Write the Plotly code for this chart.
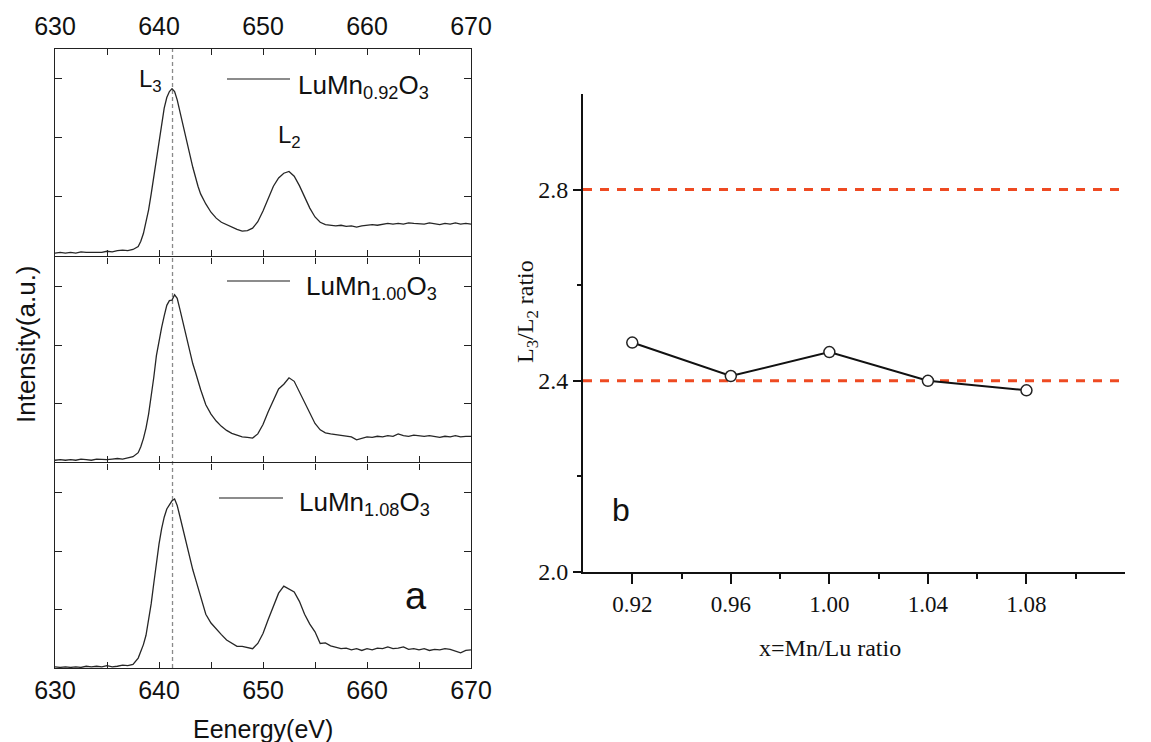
import plotly.graph_objects as go

# the page body keeps its default 8px margin, so the figure is drawn 8px in from the top-left corner
OFF = 8
W, H = 1151 - OFF, 742 - OFF

# ---------------- data ----------------
energy = [630.0, 630.5, 631.0, 631.5, 632.0, 632.5, 633.0, 633.5, 634.0, 634.5, 635.0, 635.5, 636.0, 636.5, 637.0, 637.5,
          638.0, 638.25, 638.5, 638.75, 639.0, 639.25, 639.5, 639.75, 640.0, 640.25, 640.5, 640.75, 641.0, 641.25,
          641.5, 641.75, 642.0, 642.25, 642.5, 642.75, 643.0, 643.25, 643.5, 643.75, 644.0,
          644.5, 645.0, 645.5, 646.0, 646.5, 647.0, 647.5, 648.0, 648.5, 649.0, 649.5, 650.0, 650.5, 651.0, 651.5,
          652.0, 652.5, 653.0, 653.5, 654.0, 654.5, 655.0, 655.5, 656.0, 656.5, 657.0, 657.5, 658.0, 658.5, 659.0,
          659.5, 660.0, 660.5, 661.0, 661.5, 662.0, 662.5, 663.0, 663.5, 664.0, 664.5, 665.0, 665.5, 666.0, 666.5,
          667.0, 667.5, 668.0, 668.5, 669.0, 669.5, 670.0]

int_092 = [0.05, 0.06, 0.05, 0.06, 0.05, 0.07, 0.06, 0.06, 0.07, 0.06, 0.08, 0.07, 0.09, 0.10, 0.09, 0.11,
           0.16, 0.25, 0.38, 0.56, 0.78, 1.05, 1.34, 1.66, 1.98, 2.26, 2.50, 2.68, 2.78, 2.83,
           2.78, 2.64, 2.46, 2.27, 2.08, 1.88, 1.69, 1.50, 1.33, 1.18, 1.05,
           0.88, 0.74, 0.64, 0.57, 0.53, 0.48, 0.45, 0.42, 0.43, 0.47, 0.58, 0.76, 0.98, 1.18, 1.32,
           1.40, 1.43, 1.35, 1.19, 1.00, 0.81, 0.66, 0.57, 0.53, 0.52, 0.51, 0.52, 0.50, 0.51, 0.49,
           0.51, 0.52, 0.53, 0.52, 0.54, 0.55, 0.54, 0.55, 0.54, 0.56, 0.55, 0.55, 0.54, 0.56, 0.54,
           0.53, 0.55, 0.54, 0.56, 0.54, 0.55, 0.54]

int_100 = [0.03, 0.04, 0.03, 0.04, 0.03, 0.05, 0.04, 0.03, 0.05, 0.04, 0.04, 0.05, 0.06, 0.05, 0.07, 0.09,
           0.16, 0.26, 0.40, 0.58, 0.82, 1.10, 1.45, 1.82, 2.10, 2.30, 2.50, 2.68, 2.76, 2.77,
           2.86, 2.80, 2.62, 2.43, 2.24, 2.03, 1.84, 1.68, 1.54, 1.38, 1.24,
           0.98, 0.82, 0.70, 0.61, 0.54, 0.49, 0.46, 0.43, 0.42, 0.41, 0.48, 0.64, 0.86, 1.06, 1.25,
           1.33, 1.44, 1.38, 1.20, 1.02, 0.83, 0.66, 0.55, 0.50, 0.48, 0.47, 0.45, 0.44, 0.43, 0.38,
           0.41, 0.43, 0.42, 0.44, 0.43, 0.45, 0.44, 0.48, 0.45, 0.44, 0.46, 0.45, 0.44, 0.45, 0.43,
           0.42, 0.44, 0.43, 0.45, 0.43, 0.44, 0.44]

int_108 = [0.02, 0.01, 0.02, 0.01, 0.02, 0.01, 0.03, 0.02, 0.03, 0.02, 0.04, 0.02, 0.03, 0.05, 0.04, 0.06,
           0.17, 0.27, 0.40, 0.56, 0.80, 1.10, 1.45, 1.82, 2.12, 2.38, 2.58, 2.72, 2.80, 2.86,
           2.89, 2.78, 2.60, 2.42, 2.22, 2.02, 1.83, 1.68, 1.53, 1.38, 1.22,
           0.92, 0.77, 0.66, 0.57, 0.48, 0.42, 0.37, 0.37, 0.35, 0.33, 0.42, 0.59, 0.83, 1.07, 1.28,
           1.40, 1.35, 1.30, 1.14, 0.92, 0.75, 0.62, 0.42, 0.43, 0.38, 0.35, 0.33, 0.34, 0.31, 0.33,
           0.30, 0.33, 0.31, 0.34, 0.33, 0.36, 0.33, 0.34, 0.36, 0.32, 0.33, 0.31, 0.33, 0.30, 0.32,
           0.31, 0.33, 0.32, 0.29, 0.26, 0.30, 0.31]

sample_labels = ["LuMn<sub>0.92</sub>O<sub>3</sub>", "LuMn<sub>1.00</sub>O<sub>3</sub>", "LuMn<sub>1.08</sub>O<sub>3</sub>"]
l3_edge = 641.3

mn_lu = [0.92, 0.96, 1.00, 1.04, 1.08]
l3_l2 = [2.48, 2.41, 2.46, 2.40, 2.38]
ref_levels = [2.8, 2.4]
x_ticks_b = [0.92, 0.96, 1.00, 1.04, 1.08]
x_ticktext_b = ["0.92", "0.96", "1.00", "1.04", "1.08"]
y_ticks_b = [2.0, 2.4, 2.8]
y_ticktext_b = ["2.0", "2.4", "2.8"]

assert len(energy) == len(int_092) == len(int_100) == len(int_108)

# ---------------- helpers (page pixels -> paper fractions) ----------------
def fx(px):
    return (px - OFF) / W

def fy(py):
    return 1 - (py - OFF) / H

SANS = "Liberation Sans, Arial, sans-serif"
SERIF = "Liberation Serif, Times New Roman, serif"
LW = 1.4

fig = go.Figure()

spectra = [int_092, int_100, int_108]
for i, s in enumerate(spectra):
    ax = "" if i == 0 else str(i + 1)
    fig.add_trace(go.Scatter(x=energy, y=s, mode="lines", xaxis="x" + ax, yaxis="y" + ax,
                             line=dict(color="#262626", width=1.3), showlegend=False))

fig.add_trace(go.Scatter(x=mn_lu, y=l3_l2, mode="lines+markers", xaxis="x4", yaxis="y4",
                         line=dict(color="#111", width=2),
                         marker=dict(symbol="circle", size=11, color="white",
                                     line=dict(color="#222", width=1.5)),
                         showlegend=False))

left_x = [fx(55), fx(471)]
panels_y = [(49, 256), (256 + LW, 462), (462 + LW, 668)]

common_x = dict(range=[630, 670], dtick=10, tick0=630, ticks="inside", ticklen=6, tickwidth=1.3,
                tickcolor="#222", showline=True, linecolor="#222", linewidth=LW, mirror="allticks",
                showgrid=False, zeroline=False, domain=left_x, automargin=False,
                minor=dict(dtick=5, ticks="inside", ticklen=6, tickwidth=1.3, tickcolor="#222", showgrid=False),
                tickfont=dict(family=SANS, size=25, color="#111"))
common_y = dict(range=[0, 3.5], tickvals=[1, 2, 3], ticks="inside", ticklen=7, tickwidth=1.3,
                tickcolor="#222", showline=True, linecolor="#222", linewidth=LW, mirror="allticks",
                showgrid=False, zeroline=False, showticklabels=False, automargin=False)

layout = dict(width=W, height=H, margin=dict(l=0, r=0, t=0, b=0, autoexpand=False),
              paper_bgcolor="white", plot_bgcolor="rgba(0,0,0,0)", showlegend=False)

for i, (t, b) in enumerate(panels_y):
    ax = "" if i == 0 else str(i + 1)
    xa = dict(common_x)
    xa["anchor"] = "y" + ax
    if i == 0:
        xa["side"] = "top"
        xa["showticklabels"] = True
        xa["ticklabelstandoff"] = 3
    elif i == 1:
        xa["showticklabels"] = False
    else:
        xa["side"] = "bottom"
        xa["showticklabels"] = True
        xa["ticklabelstandoff"] = 0
    ya = dict(common_y)
    ya["anchor"] = "x" + ax
    ya["domain"] = [fy(b), fy(t)]
    layout["xaxis" + ax] = xa
    layout["yaxis" + ax] = ya

layout["xaxis4"] = dict(range=[0.90, 1.12], domain=[fx(583), fx(1125)], anchor="y4", automargin=False,
                        tickvals=x_ticks_b, ticktext=x_ticktext_b, ticks="outside", ticklen=10,
                        tickwidth=1.5, tickcolor="#111", showline=True, linecolor="#111", linewidth=2,
                        showgrid=False, zeroline=False,
                        minor=dict(tickvals=[0.94, 0.98, 1.02, 1.06, 1.10], ticks="outside", ticklen=5,
                                   tickwidth=1.5, tickcolor="#111", showgrid=False),
                        tickfont=dict(family=SERIF, size=23, color="#111"), ticklabelstandoff=0)
layout["yaxis4"] = dict(range=[2.0, 3.0], domain=[fy(572), fy(94)], anchor="x4", automargin=False,
                        tickvals=y_ticks_b, ticktext=y_ticktext_b, ticks="outside", ticklen=8,
                        tickwidth=1.5, tickcolor="#111", showline=True, linecolor="#111", linewidth=2,
                        showgrid=False, zeroline=False,
                        minor=dict(tickvals=[2.2, 2.6], ticks="outside", ticklen=4,
                                   tickwidth=1.5, tickcolor="#111", showgrid=False),
                        tickfont=dict(family=SERIF, size=24, color="#111"), ticklabelstandoff=0)

shapes = []
shapes.append(dict(type="line", xref="x3", yref="paper", x0=l3_edge, x1=l3_edge,
                   y0=fy(668), y1=fy(49), line=dict(color="#8a8a8a", width=1.3, dash="4px,3px"), layer="below"))
for lv in ref_levels:
    shapes.append(dict(type="line", xref="x4 domain", yref="y4", x0=0, x1=1, y0=lv, y1=lv,
                       line=dict(color="#EE4A22", width=3, dash="9px,8px"), layer="below"))
leg_pos = [(227, 290, 79), (227, 290, 281), (219, 283, 498)]
for (xa0, xa1, yy) in leg_pos:
    shapes.append(dict(type="line", xref="paper", yref="paper", x0=fx(xa0), x1=fx(xa1), y0=fy(yy), y1=fy(yy),
                       line=dict(color="#666", width=1.5)))
layout["shapes"] = shapes


def note(text, x, y, size, family=SANS, angle=0, xanchor="center"):
    return dict(text=text, x=fx(x), y=fy(y), xref="paper", yref="paper", xanchor=xanchor, yanchor="middle",
                showarrow=False, textangle=angle, font=dict(family=family, size=size, color="#111"))


ann = []
leg_text_pos = [(296, 86), (304, 287), (297, 503)]
for lbl, (xx, yy) in zip(sample_labels, leg_text_pos):
    ann.append(note(lbl, xx, yy, 26, xanchor="left"))
ann.append(note("L<sub>3</sub>", 150, 80, 24))
ann.append(note("L<sub>2</sub>", 289, 136, 24))
ann.append(note("a", 416, 596, 38))
ann.append(note("b", 621, 510, 32))
ann.append(note("Intensity(a.u.)", 26, 344, 26, angle=-90))
ann.append(note("Eenergy(eV)", 263, 729, 25))
ann.append(note("x=Mn/Lu ratio", 830, 648, 24, family=SERIF))
ann.append(note("L<sub>3</sub>/L<sub>2</sub> ratio", 527, 312, 24, family=SERIF, angle=-90))
layout["annotations"] = ann

fig.update_layout(**layout)
fig.write_html("out.html")
